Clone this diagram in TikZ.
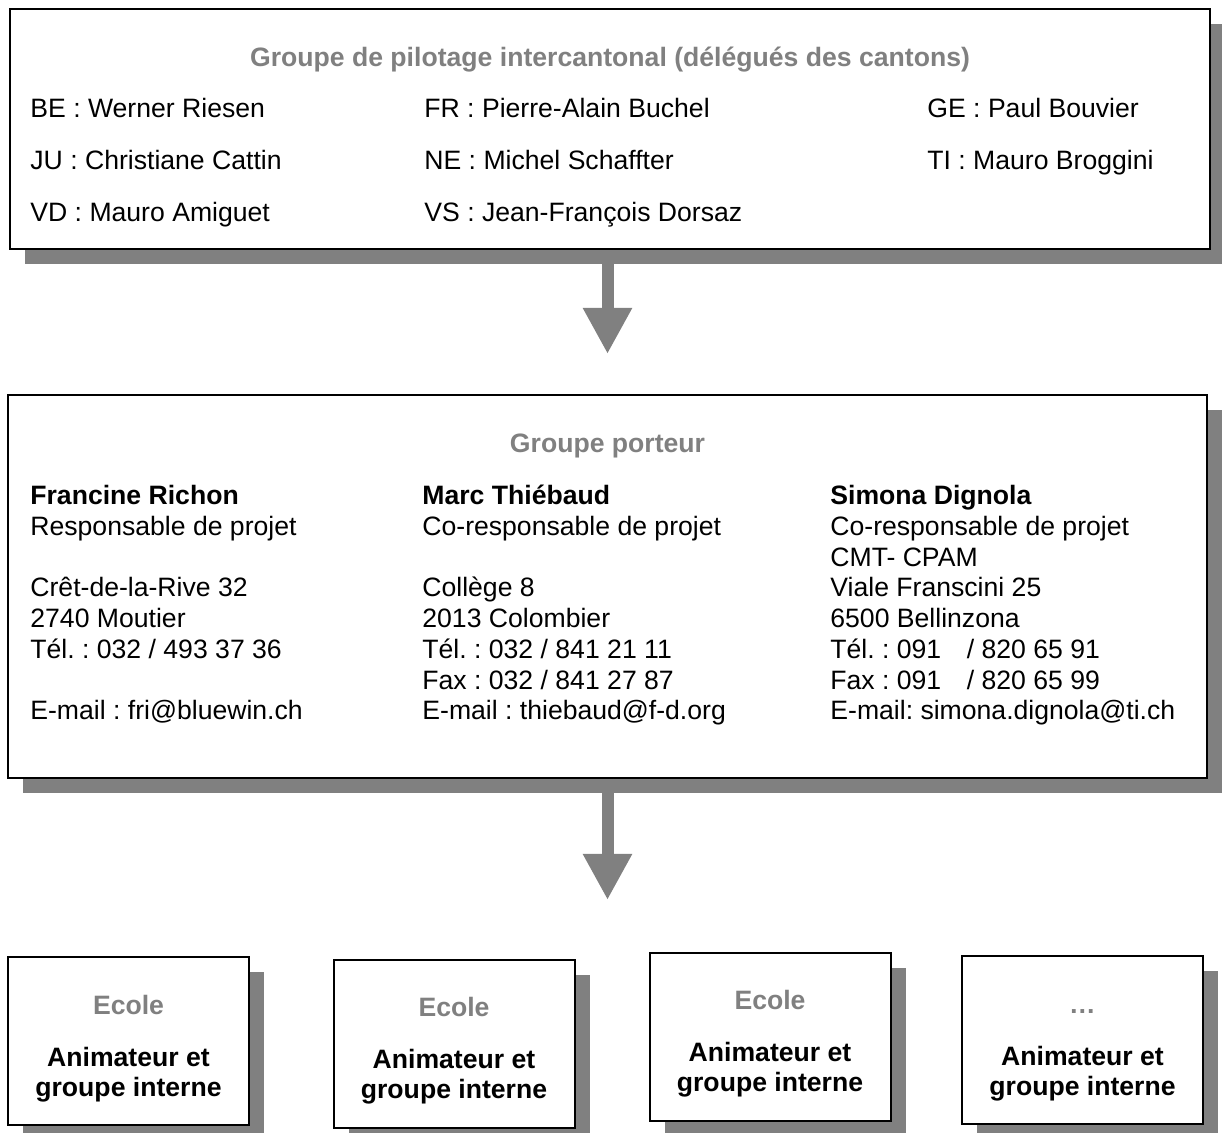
\documentclass[tikz,border=0pt]{standalone}
\usepackage{fontspec}
\setmainfont{Liberation Sans}
\usetikzlibrary{arrows.meta,shadows,calc}
\definecolor{ShadeGray}{HTML}{808080}
\newcommand{\head}[1]{\textcolor{ShadeGray}{\textbf{#1}}}

\begin{document}
\begin{tikzpicture}[
    x=0.5pt,y=-0.5pt,
    panel/.style={draw=black,line width=1pt,fill=white,
                  drop shadow={shadow xshift=7.5pt,shadow yshift=-7.5pt,fill=ShadeGray,opacity=1}},
    entry/.style={anchor=base west,inner sep=0pt,font=\fontsize{13.3}{15.4}\selectfont\frenchspacing},
    heading/.style={anchor=base,inner sep=0pt,font=\fontsize{13.3}{15.4}\selectfont\bfseries,text=ShadeGray},
    column/.style={entry,align=left},
    school/.style={panel,minimum width=120.5pt,minimum height=84pt},
    schooltext/.style={anchor=base,inner sep=0pt,align=center,
                       font=\fontsize{13.3}{15}\selectfont\bfseries},
    flow/.style={ShadeGray,line width=6pt,-{Triangle[length=23pt,width=23pt]}}
  ]
  \useasboundingbox (0,0) rectangle (1222,1133);

  % steering group
  \node[panel,minimum width=600pt,minimum height=120pt] (pilot) at (610,129) {};
  \node[heading] (pilottitle) at (610,67) {Groupe de pilotage intercantonal (délégués des cantons)};
  \node[entry] (be) at (30,118)  {BE : Werner Riesen};
  \node[entry] (fr) at (424,118) {FR : Pierre-Alain Buchel};
  \node[entry] (ge) at (927,118) {GE : Paul Bouvier};
  \node[entry] (ju) at (30,170)  {JU : Christiane Cattin};
  \node[entry] (ne) at (424,170) {NE : Michel Schaffter};
  \node[entry] (ti) at (927,170) {TI : Mauro Broggini};
  \node[entry] (vd) at (30,222)  {VD : Mauro Amiguet};
  \node[entry] (vs) at (424,222) {VS : Jean-François Dorsaz};

  % project group
  \node[panel,minimum width=599.5pt,minimum height=191.5pt] (porteur) at (607.5,586.5) {};
  \node[heading] (porteurtitle) at (607.5,453) {Groupe porteur};
  \node[column] (richon) at (30,720) {\textbf{Francine Richon}\\Responsable de projet\\[15.4pt]
    Crêt-de-la-Rive 32\\2740 Moutier\\Tél. : 032 / 493 37 36\\[15.4pt]E-mail : fri@bluewin.ch};
  \node[column] (thiebaud) at (422,720) {\textbf{Marc Thiébaud}\\Co-responsable de projet\\[15.4pt]
    Collège 8\\2013 Colombier\\Tél. : 032 / 841 21 11\\Fax : 032 / 841 27 87\\E-mail : thiebaud@f-d.org};
  \node[column] (dignola) at (830,720) {\textbf{Simona Dignola}\\Co-responsable de projet\\CMT- CPAM\\
    Viale Franscini 25\\6500 Bellinzona\\Tél. : 091\hspace{0.96em}/ 820 65 91\\
    Fax : 091\hspace{0.96em}/ 820 65 99\\E-mail: simona.dignola@ti.ch};

  % schools
  \node[school] (s1) at (128.5,1041) {};
  \node[school] (s2) at (454,1043.5) {};
  \node[school] (s3) at (770,1036.5) {};
  \node[school] (s4) at (1082.5,1040) {};
  \node[schooltext] (t1) at ($(s1.north)+(0,140)$) {\head{Ecole}\\[11pt]Animateur et\\groupe interne};
  \node[schooltext] (t2) at ($(s2.north)+(0,140)$) {\head{Ecole}\\[11pt]Animateur et\\groupe interne};
  \node[schooltext] (t3) at ($(s3.north)+(0,140)$) {\head{Ecole}\\[11pt]Animateur et\\groupe interne};
  \node[schooltext] (t4) at ($(s4.north)+(0,140)$) {\head{…}\\[11pt]Animateur et\\groupe interne};

  \coordinate (fanout) at (607.5,900);
  \draw[flow,shorten >=20pt] (pilot.south -| porteur.north) -- (porteur.north);
  \draw[flow] (porteur.south) -- (fanout);
\end{tikzpicture}
\end{document}
